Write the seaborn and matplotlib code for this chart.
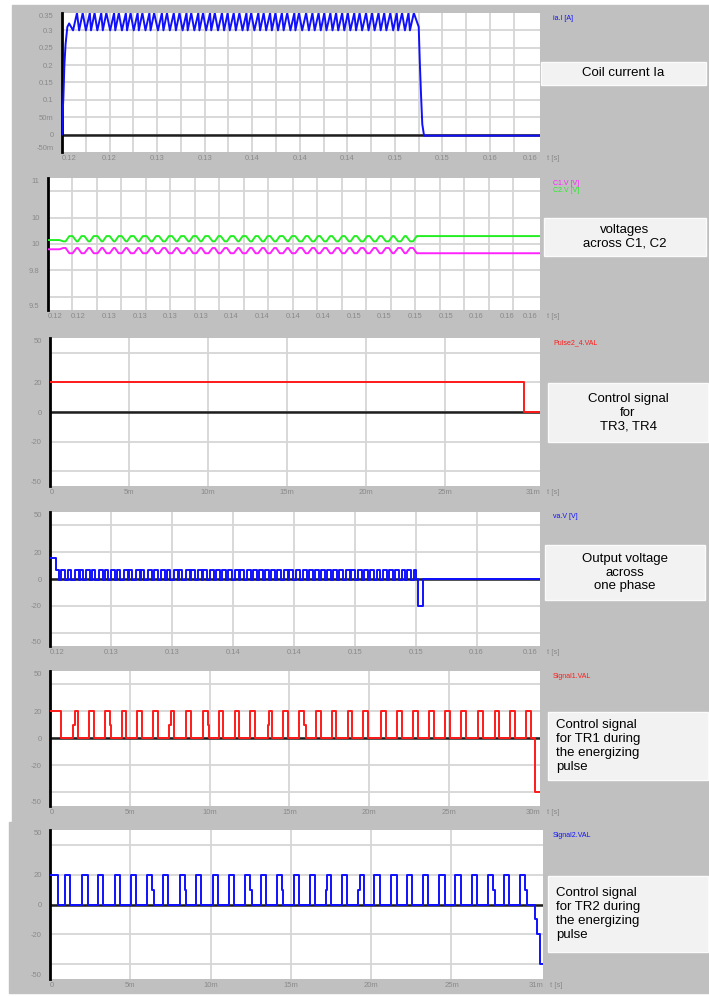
import numpy as np
import pandas as pd
import matplotlib
matplotlib.use("Agg")
import matplotlib.pyplot as plt
from matplotlib.patches import Rectangle
import seaborn as sns

sns.set_theme(style="white")
plt.rcParams["font.family"] = ["Liberation Sans", "DejaVu Sans"]

# ---------------------------------------------------------------- data ----
T0 = 0.12            # s, start of the energizing pulse on the absolute time axis

# gate pulses of TR1 / TR2, ms after the start of the energizing pulse
tr1_initial_ms = 0.71
tr1_on_ms = [1.44, 2.44, 3.43, 4.48, 5.47, 6.46, 7.45, 8.53, 9.58, 10.57,
             11.56, 12.55, 13.63, 14.62, 15.61, 16.66, 17.65, 18.64, 19.63,
             20.76, 21.76, 22.75, 23.74, 24.73, 25.78, 26.80, 27.85, 28.84,
             29.83]
tr1_width_ms = 0.30
tr1_slow_rise = [0, 6, 12]        # pulses whose rising edge pauses at half level
tr1_slow_fall = [2, 8, 14]        # pulses whose falling edge pauses at half level
tr1_tail_ms = [30.40]
tr1_tail_val = [-40]

tr2_initial_ms = 0.48
tr2_on_ms = [0.93, 2.01, 2.97, 4.05, 5.04, 6.03, 7.02, 8.07, 9.07, 10.14,
             11.13, 12.12, 13.12, 14.11, 15.18, 16.18, 17.17, 18.16, 19.21,
             20.20, 21.25, 22.24, 23.23, 24.25, 25.24, 26.29, 27.28, 28.27,
             29.26]
tr2_width_ms = 0.33
tr2_slow_rise = [16, 18]
tr2_slow_fall = [5, 7, 11, 13, 26, 28]
tr2_tail_ms = [30.20, 30.34, 30.54]
tr2_tail_val = [-10, -20, -40]

gate_high = 20
gate_half = 10
gate_low = 0
gate_pause_ms = 0.10

# TR3 / TR4 control signal
pulse24_level = 20
pulse24_off_ms = 30.0

# coil current ia.I [A]
ia_rise_ms = [0.0, 0.04, 0.12, 0.20, 0.30, 0.45, 0.60]
ia_rise_A = [0.0, 0.05, 0.11, 0.20, 0.26, 0.31, 0.32]
ia_valley_A = 0.30
ia_peak_A = 0.35
ia_fall_ms = [30.00, 30.10, 30.20, 30.30, 30.45]
ia_fall_A = [0.31, 0.20, 0.11, 0.03, -0.003]
ia_rest_A = -0.003

# capacitor voltages [V]: (upper, lower) ripple levels
c1_levels = (9.97, 9.93)
c2_levels = (10.06, 10.02)

# output voltage va.V [V] for two / one / no gate conducting
va_both_on = 16
va_one_on = 7
va_none_on = -1
va_tail_ms = [30.00, 30.20, 30.60]
va_tail_V = [0, -20, 0]

# axis ticks and labels
abs_end = 0.1602
p1_xticks = [0.120, 0.124, 0.128, 0.132, 0.136, 0.140, 0.144, 0.148, 0.152, 0.156, 0.160]
p1_xlabels = ["0.12", "0.12", "0.13", "0.13", "0.14", "0.14", "0.14", "0.15", "0.15", "0.16", "0.16"]
p1_xgrid = [0.122, 0.124, 0.126, 0.128, 0.130, 0.132, 0.134, 0.136, 0.138, 0.140,
            0.142, 0.144, 0.146, 0.148, 0.150, 0.152, 0.154, 0.156, 0.158]
p1_yticks = [0.35, 0.30, 0.25, 0.20, 0.15, 0.10, 0.05, 0.0, -0.05]
p1_ylabels = ["0.35", "0.3", "0.25", "0.2", "0.15", "0.1", "50m", "0", "-50m"]
p1_ygrid = [0.30, 0.25, 0.20, 0.15, 0.10, 0.05, 0.0]

p2_xticks = [0.1200, 0.1225, 0.1250, 0.1275, 0.1300, 0.1325, 0.1350, 0.1375, 0.1400,
             0.1425, 0.1450, 0.1475, 0.1500, 0.1525, 0.1550, 0.1575, 0.1600]
p2_xlabels = ["0.12", "0.12", "0.13", "0.13", "0.13", "0.13", "0.14", "0.14", "0.14",
              "0.14", "0.15", "0.15", "0.15", "0.15", "0.16", "0.16", "0.16"]
p2_xgrid = p1_xgrid
p2_yticks = [10.5, 10.2, 10.0, 9.8, 9.5]
p2_ylabels = ["11", "10", "10", "9.8", "9.5"]
p2_ygrid = [10.4, 10.2, 10.0, 9.8, 9.6]

p4_xticks = [0.120, 0.125, 0.130, 0.135, 0.140, 0.145, 0.150, 0.155, 0.160]
p4_xlabels = ["0.12", "0.13", "0.13", "0.14", "0.14", "0.15", "0.15", "0.16", "0.16"]
p4_xgrid = [0.125, 0.130, 0.135, 0.140, 0.145, 0.150, 0.155]

sig_yticks = [50, 20, 0, -20, -50]
sig_ylabels = ["50", "20", "0", "-20", "-50"]
sig_ygrid = [40, 20, 0, -20, -40]
rel_xgrid = [0.005, 0.010, 0.015, 0.020, 0.025]
p3_end, p5_end, p6_end = 0.0310, 0.0307, 0.0307
p3_xlabels = ["0", "5m", "10m", "15m", "20m", "25m", "31m"]
p5_xlabels = ["0", "5m", "10m", "15m", "20m", "25m", "30m"]
p6_xlabels = ["0", "5m", "10m", "15m", "20m", "25m", "31m"]

# ----------------------------------------------------------- waveforms ----
def gate_trace(initial_ms, on_ms, width_ms, slow_rise, slow_fall, tail_ms, tail_val, end_s):
    t = [0.0, initial_ms]
    v = [gate_high, gate_low]
    for i, s in enumerate(on_ms):
        if i in slow_rise:
            t += [s, s + gate_pause_ms]
            v += [gate_half, gate_high]
        else:
            t.append(s)
            v.append(gate_high)
        if i in slow_fall:
            t += [s + width_ms, s + width_ms + gate_pause_ms]
            v += [gate_half, gate_low]
        else:
            t.append(s + width_ms)
            v.append(gate_low)
    t += list(tail_ms)
    v += list(tail_val)
    t = np.append(np.array(t) / 1000.0, end_s)
    v = np.append(v, v[-1])
    return pd.DataFrame({"t": t, "v": v})


sig1 = gate_trace(tr1_initial_ms, tr1_on_ms, tr1_width_ms, tr1_slow_rise, tr1_slow_fall,
                  tr1_tail_ms, tr1_tail_val, p5_end)
sig2 = gate_trace(tr2_initial_ms, tr2_on_ms, tr2_width_ms, tr2_slow_rise, tr2_slow_fall,
                  tr2_tail_ms, tr2_tail_val, p6_end)
pulse24 = pd.DataFrame({"t": [0.0, pulse24_off_ms / 1000, p3_end],
                        "v": [pulse24_level, 0, 0]})

# conduction intervals of both chopping switches
tr1_int = [(0.0, tr1_initial_ms)] + [(s, s + tr1_width_ms) for s in tr1_on_ms]
tr2_int = [(0.0, tr2_initial_ms)] + [(s, s + tr2_width_ms) for s in tr2_on_ms]

# output voltage: level set by how many chopping switches conduct
edges = sorted({e for iv in tr1_int + tr2_int for e in iv if e < va_tail_ms[0]})
va_t, va_v = [], []
for e in edges:
    n = sum(a <= e < b for a, b in tr1_int) + sum(a <= e < b for a, b in tr2_int)
    va_t.append(e)
    va_v.append({2: va_both_on, 1: va_one_on, 0: va_none_on}[n])
va_t += va_tail_ms
va_v += va_tail_V
va = pd.DataFrame({"t": np.append(T0 + np.array(va_t) / 1000, abs_end),
                   "v": np.append(va_v, va_v[-1])})

# coil current: rises while a chopping switch conducts, sags in between
pulses = sorted([(s, tr1_width_ms) for s in tr1_on_ms] + [(s, tr2_width_ms) for s in tr2_on_ms])
ia_t = list(ia_rise_ms)
ia_v = list(ia_rise_A)
for s, w in pulses:
    if s > ia_rise_ms[-1] and s + w < ia_fall_ms[0]:
        ia_t += [s, s + w]
        ia_v += [ia_valley_A, ia_peak_A]
ia_t += ia_fall_ms
ia_v += ia_fall_A
ia = pd.DataFrame({"t": np.append(T0 + np.array(ia_t) / 1000, abs_end),
                   "v": np.append(ia_v, ia_rest_A)})

# capacitor voltages: C2 charges during TR1 pulses, C1 during TR2 pulses
events = sorted([(s, s + tr1_width_ms, 1) for s in tr1_on_ms] +
                [(s, s + tr2_width_ms, 2) for s in tr2_on_ms])
c1_t, c1_v = [0.0], [c1_levels[0] - 0.01]
c2_t, c2_v = [0.0], [c2_levels[1] + 0.01]
for a, b, k in events:
    c1_t += [a, b]
    c2_t += [a, b]
    if k == 1:
        c1_v += [c1_v[-1], c1_levels[1]]
        c2_v += [c2_v[-1], c2_levels[0]]
    else:
        c1_v += [c1_v[-1], c1_levels[0]]
        c2_v += [c2_v[-1], c2_levels[1]]
c1 = pd.DataFrame({"t": np.append(T0 + np.array(c1_t) / 1000, abs_end),
                   "v": np.append(c1_v, c1_levels[1])})
c2 = pd.DataFrame({"t": np.append(T0 + np.array(c2_t) / 1000, abs_end),
                   "v": np.append(c2_v, c2_levels[0])})

# -------------------------------------------------------------- figure ----
W, H = 709, 996
fig = plt.figure(figsize=(W / 100, H / 100), dpi=100, facecolor="white")
GRAY_BG = "#c0c0c0"
GRID = "#d6d6d6"
TICK = "#8a8a8a"
BLUE, RED, MAGENTA, GREEN = "#1010ff", "#ff1a1a", "#ff22ff", "#22ee22"


def fx(x):
    return x / W


def fy(y):
    return 1 - y / H


fig.add_artist(Rectangle((fx(12), fy(822)), fx(W - 12), (822 - 5) / H,
                         transform=fig.transFigure, color=GRAY_BG, zorder=-10))
fig.add_artist(Rectangle((fx(9), fy(993)), fx(W - 9), (993 - 822) / H,
                         transform=fig.transFigure, color=GRAY_BG, zorder=-10))


def add_panel(box):
    l, t, r, b = box
    return fig.add_axes([fx(l), fy(b), (r - l) / W, (b - t) / H])


def style(ax, box, xlim, ylim, xticks, xlabels, xgrid, yticks, ylabels, ygrid, zero=True):
    ax.set_facecolor("white")
    ax.set_xlim(*xlim)
    ax.set_ylim(*ylim)
    for g in xgrid:
        ax.axvline(g, color=GRID, lw=1.3, zorder=1)
    for g in ygrid:
        ax.axhline(g, color=GRID, lw=1.3, zorder=1)
    if zero:
        ax.axhline(0, color="#1e1e1e", lw=1.8, zorder=2)
    ax.set_xticks(xticks)
    ax.set_xticklabels(xlabels)
    ax.set_yticks(yticks)
    ax.set_yticklabels(ylabels)
    ax.tick_params(axis="both", length=0, labelsize=5.5, labelcolor=TICK)
    ax.tick_params(axis="x", pad=2.5)
    ax.tick_params(axis="y", pad=6)
    xl = ax.get_xticklabels()
    xl[0].set_horizontalalignment("left")
    xl[-1].set_horizontalalignment("right")
    yl = ax.get_yticklabels()
    yl[0].set_verticalalignment("top")
    yl[-1].set_verticalalignment("bottom")
    ax.grid(False)
    for s in ("top", "right", "bottom"):
        ax.spines[s].set_visible(False)
    ax.spines["left"].set_color("black")
    ax.spines["left"].set_linewidth(2.0)
    ax.set_xlabel("")
    ax.set_ylabel("")
    l, t, r, b = box
    fig.text(fx(r + 7), fy(b + 6.5), "t [s]", fontsize=5.5, color=TICK,
             ha="left", va="center")


def legend(box, labels, colors):
    l, t, r, b = box
    for i, (lab, col) in enumerate(zip(labels, colors)):
        fig.text(fx(553), fy(t + 5 + 8 * i), lab, fontsize=5, color=col,
                 ha="left", va="center")


def note(l, t, r, b, text, align="center"):
    fig.add_artist(Rectangle((fx(l), fy(b)), (r - l) / W, (b - t) / H,
                             transform=fig.transFigure, facecolor="#f2f2f2",
                             edgecolor="#fbfbfb", lw=1.0, zorder=5))
    if align == "center":
        fig.text(fx((l + r) / 2), fy((t + b) / 2), text, fontsize=9.5, ha="center",
                 va="center", multialignment="center", color="black",
                 linespacing=1.2, zorder=6)
    else:
        fig.text(fx(l + 8), fy((t + b) / 2), text, fontsize=9.5, ha="left",
                 va="center", multialignment="left", color="black",
                 linespacing=1.2, zorder=6)


def trace(ax, df, color, steps=False):
    kw = dict(drawstyle="steps-post") if steps else {}
    sns.lineplot(data=df, x="t", y="v", ax=ax, color=color, lw=1.4,
                 estimator=None, sort=False, legend=False, zorder=3, **kw)


# panel 1: coil current
b1 = (62, 13, 540, 152)
ax1 = add_panel(b1)
trace(ax1, ia, BLUE)
style(ax1, b1, (T0, abs_end), (-0.05, 0.35), p1_xticks, p1_xlabels, p1_xgrid,
      p1_yticks, p1_ylabels, p1_ygrid)
legend(b1, ["ia.I [A]"], [BLUE])
note(541, 62, 706, 85, "Coil current Ia")

# panel 2: capacitor voltages
b2 = (48, 178, 540, 310)
ax2 = add_panel(b2)
trace(ax2, c2, GREEN)
trace(ax2, c1, MAGENTA)
style(ax2, b2, (T0, abs_end), (9.5, 10.5), p2_xticks, p2_xlabels, p2_xgrid,
      p2_yticks, p2_ylabels, p2_ygrid, zero=False)
legend(b2, ["C1.V [V]", "C2.V [V]"], [MAGENTA, GREEN])
note(544, 218, 706, 256, "voltages\nacross C1, C2")

# panel 3: TR3 / TR4 control
b3 = (50, 338, 540, 486)
ax3 = add_panel(b3)
trace(ax3, pulse24, RED, steps=True)
style(ax3, b3, (0, p3_end), (-50, 50), [0, 0.005, 0.010, 0.015, 0.020, 0.025, p3_end],
      p3_xlabels, rel_xgrid, sig_yticks, sig_ylabels, sig_ygrid)
legend(b3, ["Pulse2_4.VAL"], [RED])
note(548, 383, 708, 442, "Control signal\nfor\nTR3, TR4")

# panel 4: output voltage
b4 = (50, 512, 540, 646)
ax4 = add_panel(b4)
trace(ax4, va, BLUE, steps=True)
style(ax4, b4, (T0, abs_end), (-50, 50), p4_xticks, p4_xlabels, p4_xgrid,
      sig_yticks, sig_ylabels, sig_ygrid)
legend(b4, ["va.V [V]"], [BLUE])
note(545, 545, 705, 600, "Output voltage\nacross\none phase")

# panel 5: TR1 control
b5 = (50, 671, 540, 806)
ax5 = add_panel(b5)
trace(ax5, sig1, RED, steps=True)
style(ax5, b5, (0, p5_end), (-50, 50), [0, 0.005, 0.010, 0.015, 0.020, 0.025, p5_end],
      p5_xlabels, rel_xgrid, sig_yticks, sig_ylabels, sig_ygrid)
legend(b5, ["Signal1.VAL"], [RED])
note(548, 712, 708, 780, "Control signal\nfor TR1 during\nthe energizing\npulse", align="left")

# panel 6: TR2 control
b6 = (50, 830, 543, 979)
ax6 = add_panel(b6)
trace(ax6, sig2, BLUE, steps=True)
style(ax6, b6, (0, p6_end), (-50, 50), [0, 0.005, 0.010, 0.015, 0.020, 0.025, p6_end],
      p6_xlabels, rel_xgrid, sig_yticks, sig_ylabels, sig_ygrid)
legend(b6, ["Signal2.VAL"], [BLUE])
note(548, 876, 708, 952, "Control signal\nfor TR2 during\nthe energizing\npulse", align="left")

fig.savefig("out.png", dpi=100, facecolor="white")
